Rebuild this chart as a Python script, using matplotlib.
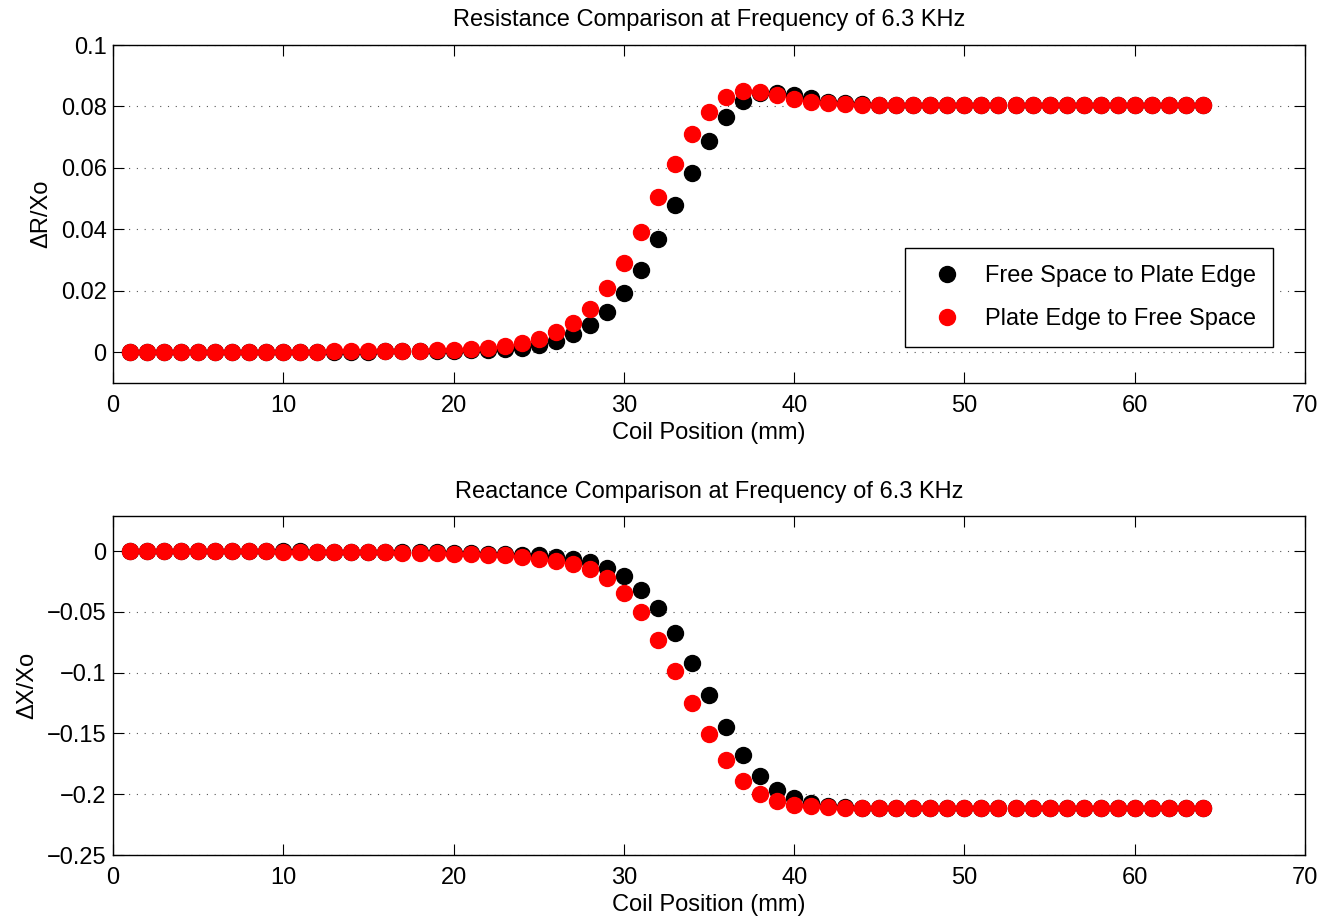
import matplotlib
matplotlib.use("Agg")
import matplotlib.pyplot as plt

plt.rcParams['font.family'] = ['Liberation Sans', 'DejaVu Sans']

position = list(range(1, 65))

r_free_to_edge = [0.0000, 0.0000, 0.0000, 0.0000, 0.0000, 0.0001, 0.0001, 0.0001, 0.0001, 0.0001,
                  0.0001, 0.0002, 0.0002, 0.0002, 0.0002, 0.0003, 0.0003, 0.0003, 0.0004, 0.0005,
                  0.0006, 0.0008, 0.0011, 0.0015, 0.0024, 0.0037, 0.0058, 0.0088, 0.0132, 0.0192,
                  0.0269, 0.0369, 0.0478, 0.0585, 0.0686, 0.0767, 0.0819, 0.0843, 0.0845, 0.0838,
                  0.0827, 0.0816, 0.0811, 0.0808, 0.0806, 0.0806, 0.0806, 0.0806, 0.0806, 0.0806,
                  0.0806, 0.0806, 0.0806, 0.0806, 0.0806, 0.0806, 0.0806, 0.0806, 0.0806, 0.0806,
                  0.0806, 0.0806, 0.0806, 0.0806]
r_edge_to_free = [0.0000, 0.0000, 0.0000, 0.0000, 0.0001, 0.0001, 0.0001, 0.0001, 0.0002, 0.0002,
                  0.0002, 0.0002, 0.0003, 0.0003, 0.0003, 0.0004, 0.0004, 0.0005, 0.0006, 0.0008,
                  0.0010, 0.0015, 0.0021, 0.0031, 0.0044, 0.0066, 0.0096, 0.0142, 0.0208, 0.0291,
                  0.0393, 0.0505, 0.0612, 0.0711, 0.0782, 0.0832, 0.0849, 0.0846, 0.0838, 0.0825,
                  0.0816, 0.0811, 0.0808, 0.0806, 0.0806, 0.0806, 0.0806, 0.0806, 0.0806, 0.0806,
                  0.0806, 0.0806, 0.0806, 0.0806, 0.0806, 0.0806, 0.0806, 0.0806, 0.0806, 0.0806,
                  0.0806, 0.0806, 0.0806, 0.0806]

x_free_to_edge = [0.0000, 0.0000, 0.0000, 0.0000, 0.0000, -0.0001, -0.0001, -0.0001, -0.0002, -0.0002,
                  -0.0002, -0.0003, -0.0003, -0.0004, -0.0004, -0.0005, -0.0006, -0.0008, -0.0010, -0.0012,
                  -0.0015, -0.0019, -0.0024, -0.0030, -0.0035, -0.0046, -0.0064, -0.0088, -0.0137, -0.0206,
                  -0.0316, -0.0467, -0.0672, -0.0919, -0.1186, -0.1447, -0.1681, -0.1853, -0.1969, -0.2034,
                  -0.2073, -0.2096, -0.2108, -0.2113, -0.2115, -0.2115, -0.2115, -0.2115, -0.2115, -0.2115,
                  -0.2115, -0.2115, -0.2115, -0.2115, -0.2115, -0.2115, -0.2115, -0.2115, -0.2115, -0.2115,
                  -0.2115, -0.2115, -0.2115, -0.2115]
x_edge_to_free = [0.0000, 0.0000, 0.0000, 0.0000, 0.0000, -0.0001, -0.0001, -0.0002, -0.0002, -0.0003,
                  -0.0004, -0.0005, -0.0006, -0.0007, -0.0008, -0.0009, -0.0011, -0.0013, -0.0016, -0.0019,
                  -0.0021, -0.0027, -0.0035, -0.0046, -0.0060, -0.0083, -0.0107, -0.0145, -0.0222, -0.0343,
                  -0.0502, -0.0728, -0.0983, -0.1249, -0.1504, -0.1722, -0.1887, -0.1996, -0.2058, -0.2087,
                  -0.2100, -0.2109, -0.2112, -0.2115, -0.2115, -0.2115, -0.2115, -0.2115, -0.2115, -0.2115,
                  -0.2115, -0.2115, -0.2115, -0.2115, -0.2115, -0.2115, -0.2115, -0.2115, -0.2115, -0.2115,
                  -0.2115, -0.2115, -0.2115, -0.2115]

label_a = "Free Space to Plate Edge"
label_b = "Plate Edge to Free Space"
top_title = "Resistance Comparison at Frequency of 6.3 KHz"
bottom_title = "Reactance Comparison at Frequency of 6.3 KHz"
xlabel = "Coil Position (mm)"
top_ylabel = "\u0394R/Xo"
bottom_ylabel = "\u0394X/Xo"
top_yticks = [0, 0.02, 0.04, 0.06, 0.08, 0.1]
top_yticklabels = ["0", "0.02", "0.04", "0.06", "0.08", "0.1"]
bottom_yticks = [-0.25, -0.2, -0.15, -0.1, -0.05, 0]
bottom_yticklabels = ["\u22120.25", "\u22120.2", "\u22120.15", "\u22120.1", "\u22120.05", "0"]
xticks = [0, 10, 20, 30, 40, 50, 60, 70]

W, H = 1331, 918
fig = plt.figure(figsize=(W / 100, H / 100), dpi=100)
ax1 = fig.add_axes([113 / W, 1 - 383 / H, 1192 / W, 338 / H])
ax2 = fig.add_axes([113 / W, 1 - 855 / H, 1192 / W, 339 / H])

FS = 17
ms = 11.5

def style(ax, yticks, ylabels, ylim, title, ylabel, tpad, ylpad):
    ax.set_xlim(0, 70)
    ax.set_ylim(*ylim)
    ax.set_xticks(xticks)
    ax.set_xticklabels([str(t) for t in xticks], fontsize=FS)
    ax.set_yticks(yticks)
    ax.set_yticklabels(ylabels, fontsize=FS)
    ax.tick_params(direction='in', length=8, width=0.8, top=True, right=True)
    ax.tick_params(axis='x', pad=8.5)
    ax.tick_params(axis='y', pad=4.5)
    ax.grid(axis='y', linestyle=(0, (1, 6)), color='#555555', linewidth=0.8)
    ax.set_axisbelow(True)
    for s in ax.spines.values():
        s.set_linewidth(1.0)
    ax.set_title(title, fontsize=FS, pad=tpad)
    ax.set_xlabel(xlabel, fontsize=FS, labelpad=3.5)
    ax.set_ylabel(ylabel, fontsize=FS, labelpad=ylpad)

ax1.plot(position, r_free_to_edge, 'o', color='black', markeredgecolor='black', markersize=ms, label=label_a)
ax1.plot(position, r_edge_to_free, 'o', color='red', markeredgecolor='red', markersize=ms, label=label_b)
style(ax1, top_yticks, top_yticklabels, (-0.01, 0.1), top_title, top_ylabel, 13.5, 6)
leg = ax1.legend(loc='upper left', bbox_to_anchor=((905 - 113) / 1192, (383 - 248) / 338),
                 fontsize=FS, frameon=True, fancybox=False, edgecolor='black', framealpha=1,
                 borderaxespad=0, handlelength=2.14, handletextpad=0.54, labelspacing=0.9,
                 borderpad=0.71, markerscale=1.0)
leg.get_frame().set_linewidth(1.0)

ax2.plot(position, x_free_to_edge, 'o', color='black', markeredgecolor='black', markersize=ms, label=label_a)
ax2.plot(position, x_edge_to_free, 'o', color='red', markeredgecolor='red', markersize=ms, label=label_b)
style(ax2, bottom_yticks, bottom_yticklabels, (-0.25, 0.029), bottom_title, bottom_ylabel, 13, 6.5)

fig.savefig("out.png", dpi=100)
